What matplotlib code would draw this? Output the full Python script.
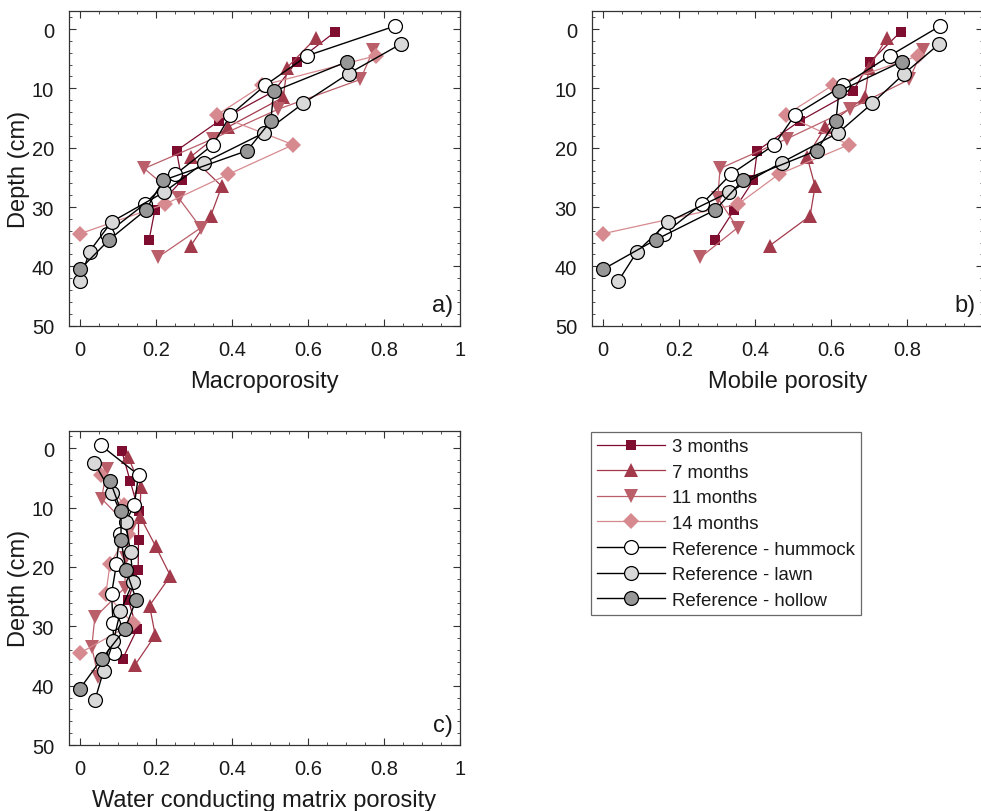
import matplotlib
matplotlib.use("Agg")
import matplotlib.pyplot as plt
from matplotlib.ticker import MultipleLocator

plt.rcParams['font.family'] = ['Liberation Sans', 'DejaVu Sans']

# depths (cm)
d3 = [0.5, 5.5, 10.5, 15.5, 20.5, 25.5, 30.5, 35.5]
d7 = [1.5, 6.5, 11.5, 16.5, 21.5, 26.5, 31.5, 36.5]
d11 = [3.5, 8.5, 13.5, 18.5, 23.5, 28.5, 33.5, 38.5]
d14 = [4.5, 9.5, 14.5, 19.5, 24.5, 29.5, 34.5]
dhum = [-0.5, 4.5, 9.5, 14.5, 19.5, 24.5, 29.5, 34.5]
dlawn = [2.5, 7.5, 12.5, 17.5, 22.5, 27.5, 32.5, 37.5, 42.5]
dhol = [5.5, 10.5, 15.5, 20.5, 25.5, 30.5, 35.5, 40.5]

# a) Macroporosity
m3a = [0.671, 0.570, 0.51, 0.366, 0.254, 0.268, 0.197, 0.182]
m7a = [0.621, 0.545, 0.535, 0.39, 0.292, 0.373, 0.344, 0.292]
m11a = [0.772, 0.738, 0.522, 0.35, 0.169, 0.26, 0.318, 0.204]
m14a = [0.779, 0.48, 0.36, 0.561, 0.39, 0.224, 0.0]
huma = [0.829, 0.598, 0.487, 0.396, 0.35, 0.251, 0.170, 0.070]
lawna = [0.845, 0.707, 0.588, 0.484, 0.327, 0.221, 0.083, 0.025, 0.0]
hola = [0.703, 0.510, 0.502, 0.440, 0.219, 0.173, 0.077, 0.0]

# b) Mobile porosity
m3b = [0.783, 0.703, 0.658, 0.518, 0.406, 0.396, 0.345, 0.295]
m7b = [0.747, 0.70, 0.689, 0.585, 0.537, 0.558, 0.545, 0.439]
m11b = [0.841, 0.806, 0.649, 0.484, 0.308, 0.302, 0.354, 0.256]
m14b = [0.83, 0.604, 0.481, 0.647, 0.462, 0.356, 0.0]
humb = [0.887, 0.755, 0.632, 0.505, 0.451, 0.336, 0.26, 0.161]
lawnb = [0.885, 0.793, 0.709, 0.619, 0.470, 0.332, 0.172, 0.090, 0.040]
holb = [0.786, 0.621, 0.613, 0.562, 0.368, 0.295, 0.139, 0.0]

# c) Water conducting matrix porosity
m3c = [0.110, 0.132, 0.154, 0.154, 0.153, 0.127, 0.150, 0.112]
m7c = [0.127, 0.160, 0.158, 0.199, 0.238, 0.183, 0.198, 0.145]
m11c = [0.070, 0.057, 0.133, 0.12, 0.118, 0.039, 0.031, 0.048]
m14c = [0.056, 0.116, 0.125, 0.079, 0.068, 0.139, 0.0]
humc = [0.055, 0.154, 0.143, 0.104, 0.096, 0.083, 0.087, 0.089]
lawnc = [0.038, 0.083, 0.120, 0.133, 0.140, 0.106, 0.088, 0.062, 0.039]
holc = [0.079, 0.108, 0.108, 0.121, 0.148, 0.118, 0.057, 0.0]

series_labels = ['3 months', '7 months', '11 months', '14 months',
                 'Reference - hummock', 'Reference - lawn', 'Reference - hollow']
xlabels = ['Macroporosity', 'Mobile porosity', 'Water conducting matrix porosity']
panel_tags = ['a)', 'b)', 'c)']
xtick_vals = [0, 0.2, 0.4, 0.6, 0.8, 1]
xtick_labels = ['0', '0.2', '0.4', '0.6', '0.8', '1']
ytick_vals = [0, 10, 20, 30, 40, 50]

c3, c7, c11, c14 = '#7f0d2f', '#a23a4b', '#ba5f6a', '#d68a8f'
styles = [
    dict(color=c3, marker='s', ms=7.5, lw=0.9),
    dict(color=c7, marker='^', ms=10, lw=0.9),
    dict(color=c11, marker='v', ms=10, lw=0.9),
    dict(color=c14, marker='D', ms=8, lw=0.9),
    dict(color='black', marker='o', ms=10, lw=1.0, mfc='white', mec='black', mew=0.9),
    dict(color='black', marker='o', ms=10, lw=1.0, mfc='#d9d9d9', mec='black', mew=0.9),
    dict(color='black', marker='o', ms=10, lw=1.0, mfc='#979797', mec='black', mew=0.9),
]

W, H = 981, 812
fig = plt.figure(figsize=(W / 100, H / 100), dpi=100)

def rect(left_px, top_px, w_px=391.4, h_px=314.5):
    return [left_px / W, 1 - (top_px + h_px) / H, w_px / W, h_px / H]

axa = fig.add_axes(rect(68.6, 12.2))
axb = fig.add_axes(rect(591.6, 12.2))
axc = fig.add_axes(rect(68.6, 431.5))

data = [
    (axa, [m3a, m7a, m11a, m14a, huma, lawna, hola]),
    (axb, [m3b, m7b, m11b, m14b, humb, lawnb, holb]),
    (axc, [m3c, m7c, m11c, m14c, humc, lawnc, holc]),
]
depths = [d3, d7, d11, d14, dhum, dlawn, dhol]

for i, (ax, vals) in enumerate(data):
    for j, (x, d) in enumerate(zip(vals, depths)):
        st = dict(styles[j])
        if j < 4:
            st.setdefault('mec', st['color'])
            st.setdefault('mfc', st['color'])
            st['mew'] = 0
        ax.plot(x, d, label=series_labels[j], zorder=2 + j * 0.1 + (1 if j >= 4 else 0), **st)
    ax.set_xlim(-0.03, 1.0)
    ax.set_ylim(50, -3)
    ax.set_xticks(xtick_vals)
    labs = list(xtick_labels)
    if i == 1:
        labs[-1] = ''  # the "1" of panel b falls outside the picture
    ax.set_xticklabels(labs)
    ax.set_yticks(ytick_vals)
    ax.xaxis.set_minor_locator(MultipleLocator(0.05))
    ax.yaxis.set_minor_locator(MultipleLocator(2))
    ax.tick_params(which='both', direction='in', top=True, right=True, labelsize=14.5,
                   color='#333333', labelcolor='#1a1a1a')
    ax.tick_params(which='major', length=5, width=0.8)
    ax.tick_params(axis='x', which='major', pad=10)
    ax.tick_params(axis='y', which='major', pad=10.5)
    ax.tick_params(which='minor', length=2.5, width=0.6)
    for s in ax.spines.values():
        s.set_color('#333333')
        s.set_linewidth(0.9)
    ax.set_xlabel(xlabels[i], fontsize=17, labelpad=8, color='#1a1a1a')
    if i != 1:
        ax.set_ylabel('Depth (cm)', fontsize=17, labelpad=1, color='#1a1a1a')
    ax.text(0.982, 0.03, panel_tags[i], transform=ax.transAxes, ha='right', va='bottom',
            fontsize=17, color='#1a1a1a')

handles, labels = axa.get_legend_handles_labels()
leg = fig.legend(handles, labels, loc='upper left',
                 bbox_to_anchor=(591 / W, 1 - 433 / H), bbox_transform=fig.transFigure,
                 borderaxespad=0, fancybox=False, frameon=True, fontsize=13.4,
                 handlelength=3.65, handletextpad=0.38, labelspacing=0.46,
                 borderpad=0.33, edgecolor='#444444')
leg.get_frame().set_linewidth(0.9)
for t in leg.get_texts():
    t.set_color('#1a1a1a')

fig.savefig('out.png', dpi=100)
